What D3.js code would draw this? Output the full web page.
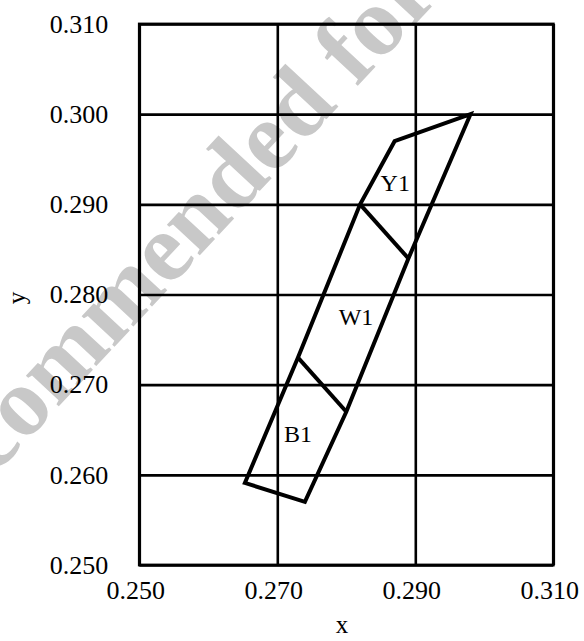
<!DOCTYPE html>
<html>
<head>
<meta charset="utf-8">
<script src="https://cdn.jsdelivr.net/npm/d3@7"></script>
<style>
  body { margin: 0; background: #fff; }
  text { font-family: "Liberation Serif", "Times New Roman", serif; }
</style>
</head>
<body>
<svg id="chart"></svg>
<script>
var width = 584,
    height = 641;

// axis ticks
var xTicks = [0.250, 0.270, 0.290, 0.310];
var yTicks = [0.250, 0.260, 0.270, 0.280, 0.290, 0.300, 0.310];

// outline of the region
var outlineX = [0.2653, 0.274, 0.280, 0.289, 0.298, 0.287, 0.282, 0.273];
var outlineY = [0.2591, 0.257, 0.267, 0.284, 0.300, 0.297, 0.290, 0.273];

// dividing lines between zones [x1, y1, x2, y2]
var dividers = [
    [0.273, 0.273, 0.280, 0.267],
    [0.282, 0.290, 0.289, 0.284]
];

// zone labels
var zoneNames = ["Y1", "W1", "B1"];
var zoneX = [0.2871, 0.2814, 0.2730];
var zoneY = [0.2924, 0.2775, 0.2645];

var margin = {left: 139.3, right: 584 - 553.3, top: 24, bottom: 641 - 565};

var x = d3.scaleLinear()
    .domain([0.25, 0.31])
    .range([margin.left, width - margin.right]);
var y = d3.scaleLinear()
    .domain([0.25, 0.31])
    .range([height - margin.bottom, margin.top]);

var svg = d3.select("#chart")
    .attr("width", width)
    .attr("height", height);

// watermark behind everything
svg.append("text")
    .attr("transform", "translate(-6,476) rotate(-47)")
    .style("font-size", "98px")
    .style("font-weight", "bold")
    .style("fill", "#c8c8c8")
    .text("commended for y");

var fmt = d3.format(".3f");

// grid via axes
var gx = svg.append("g")
    .attr("transform", "translate(0," + y(0.25) + ")")
    .call(d3.axisBottom(x).tickValues(xTicks).tickFormat(fmt)
        .tickSize(-(y(0.25) - y(0.31))).tickPadding(16));
var gy = svg.append("g")
    .attr("transform", "translate(" + x(0.25) + ",0)")
    .call(d3.axisLeft(y).tickValues(yTicks).tickFormat(fmt)
        .tickSize(-(x(0.31) - x(0.25))).tickPadding(31));

[gx, gy].forEach(function(g) {
    g.select(".domain").remove();
    g.selectAll("line").attr("stroke", "#000").attr("stroke-width", 2.6);
    g.selectAll("text")
        .style("font-size", "26px")
        .attr("fill", "#000");
});
gx.selectAll("text").attr("dx", "-4");

// frame
svg.append("rect")
    .attr("x", x(0.25))
    .attr("y", y(0.31))
    .attr("width", x(0.31) - x(0.25))
    .attr("height", y(0.25) - y(0.31))
    .attr("fill", "none")
    .attr("stroke", "#000")
    .attr("stroke-width", 2.8);

// region outline
var pts = outlineX.map(function(d, i) { return [x(d), y(outlineY[i])]; });
svg.append("path")
    .attr("d", d3.line()(pts) + "Z")
    .attr("fill", "none")
    .attr("stroke", "#000")
    .attr("stroke-width", 4)
    .attr("stroke-linejoin", "miter");

svg.selectAll(".div")
    .data(dividers)
    .enter().append("line")
        .attr("x1", function(d) { return x(d[0]); })
        .attr("y1", function(d) { return y(d[1]); })
        .attr("x2", function(d) { return x(d[2]); })
        .attr("y2", function(d) { return y(d[3]); })
        .attr("stroke", "#000")
        .attr("stroke-width", 4);

svg.selectAll(".zone")
    .data(zoneNames)
    .enter().append("text")
        .attr("x", function(d, i) { return x(zoneX[i]); })
        .attr("y", function(d, i) { return y(zoneY[i]); })
        .attr("text-anchor", "middle")
        .attr("dominant-baseline", "central")
        .style("font-size", "24px")
        .text(function(d) { return d; });

// axis titles
svg.append("text")
    .attr("x", 342)
    .attr("y", 633)
    .attr("text-anchor", "middle")
    .style("font-size", "25px")
    .text("x");
svg.append("text")
    .attr("transform", "translate(25,298) rotate(-90)")
    .attr("text-anchor", "middle")
    .style("font-size", "25px")
    .text("y");
</script>
</body>
</html>
